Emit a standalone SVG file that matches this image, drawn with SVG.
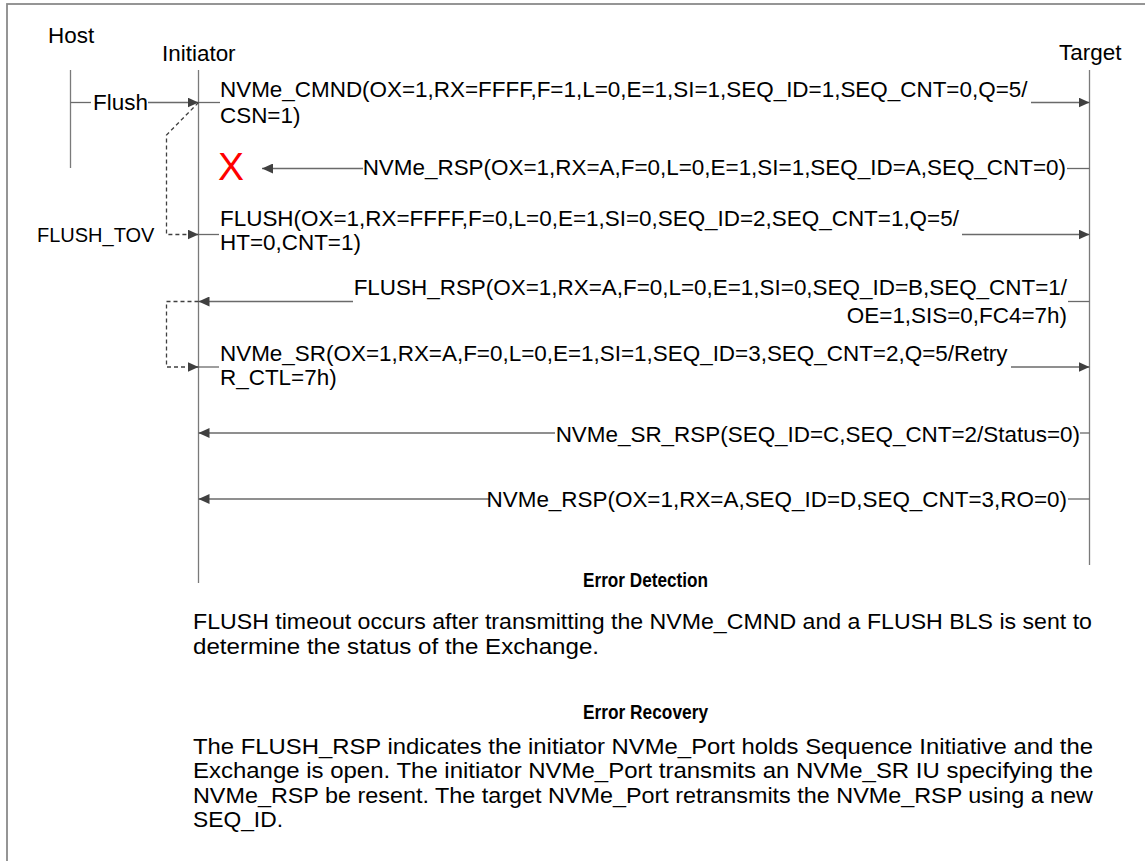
<svg xmlns="http://www.w3.org/2000/svg" width="1145" height="861" viewBox="0 0 1145 861">
<defs>
<marker id="ah" markerUnits="userSpaceOnUse" markerWidth="12" markerHeight="10" refX="11" refY="5" orient="auto">
<path d="M0,0 L11,5 L0,10 z" fill="#404040"/>
</marker>
<style>
.t{font-family:"Liberation Sans",Arial,sans-serif;font-size:22.45px;fill:#000}
.s{font-family:"Liberation Sans",Arial,sans-serif;font-size:20px;fill:#000}
.h{font-family:"Liberation Sans",Arial,sans-serif;font-size:21px;font-weight:bold;fill:#000}
.p{font-family:"Liberation Sans",Arial,sans-serif;font-size:22.5px;fill:#000}
.ll{stroke:#7a7a7a;stroke-width:1.3;fill:none}
.ar{stroke:#6a6a6a;stroke-width:1.3;fill:none}
.arw{stroke:#6a6a6a;stroke-width:1.3;fill:none;marker-end:url(#ah)}
.dsh{stroke:#404040;stroke-width:1.3;fill:none;stroke-dasharray:4,3;marker-end:url(#ah)}
</style>
</defs>
<rect x="7" y="4" width="1160" height="880" fill="#fff" stroke="#8a8a8a" stroke-width="1.8"/>

<g id="host">
<text class="t" x="48" y="43">Host</text>
<line class="ll" x1="70.5" y1="70" x2="70.5" y2="168"/>
</g>
<g id="initiator">
<text class="t" x="162" y="61">Initiator</text>
<line class="ll" x1="198.5" y1="70" x2="198.5" y2="583"/>
</g>
<g id="target">
<text class="t" x="1059" y="60">Target</text>
<line class="ll" x1="1089.5" y1="70" x2="1089.5" y2="565"/>
</g>

<g id="connectors">
<line class="ar" x1="70.5" y1="102.5" x2="91" y2="102.5"/>
<line class="arw" x1="148" y1="102.5" x2="198.5" y2="102.5"/>
<line class="ar" x1="198.5" y1="102.5" x2="220" y2="102.5"/>
<line class="arw" x1="1031" y1="102.5" x2="1089.5" y2="102.5"/>
<line class="ar" x1="1067" y1="168.5" x2="1089.5" y2="168.5"/>
<line class="arw" x1="363" y1="168.5" x2="262" y2="168.5"/>
<path class="dsh" d="M198.5,102.5 L166.5,135 L166.5,234.5 L198.5,234.5"/>
<line class="ar" x1="198.5" y1="234.5" x2="219" y2="234.5"/>
<line class="arw" x1="962" y1="234.5" x2="1089.5" y2="234.5"/>
<line class="ar" x1="1068" y1="301.5" x2="1089.5" y2="301.5"/>
<line class="arw" x1="353" y1="301.5" x2="198.5" y2="301.5"/>
<path class="dsh" d="M198.5,301.5 L166.5,301.5 L166.5,367 L198.5,367"/>
<line class="ar" x1="198.5" y1="367" x2="219" y2="367"/>
<line class="arw" x1="1011" y1="367" x2="1089.5" y2="367"/>
<line class="ar" x1="1080" y1="433" x2="1089.5" y2="433"/>
<line class="arw" x1="555" y1="433" x2="198.5" y2="433"/>
<line class="ar" x1="1068" y1="499" x2="1089.5" y2="499"/>
<line class="arw" x1="490" y1="499" x2="198.5" y2="499"/>
</g>

<g id="labels">
<text class="t" x="93" y="110">Flush</text>
<text class="t" x="220" y="97">NVMe_CMND(OX=1,RX=FFFF,F=1,L=0,E=1,SI=1,SEQ_ID=1,SEQ_CNT=0,Q=5/</text>
<text class="t" x="220" y="123">CSN=1)</text>
<text x="218" y="180" style="font-family:'Liberation Sans',Arial,sans-serif;font-size:39px;fill:#ff0000">X</text>
<text class="t" x="1066" y="175" text-anchor="end">NVMe_RSP(OX=1,RX=A,F=0,L=0,E=1,SI=1,SEQ_ID=A,SEQ_CNT=0)</text>
<text class="s" x="37" y="242">FLUSH_TOV</text>
<text class="t" x="220" y="226">FLUSH(OX=1,RX=FFFF,F=0,L=0,E=1,SI=0,SEQ_ID=2,SEQ_CNT=1,Q=5/</text>
<text class="t" x="220" y="250">HT=0,CNT=1)</text>
<text class="t" x="1067" y="295" text-anchor="end">FLUSH_RSP(OX=1,RX=A,F=0,L=0,E=1,SI=0,SEQ_ID=B,SEQ_CNT=1/</text>
<text class="t" x="1067" y="323" text-anchor="end">OE=1,SIS=0,FC4=7h)</text>
<text class="t" x="220" y="361">NVMe_SR(OX=1,RX=A,F=0,L=0,E=1,SI=1,SEQ_ID=3,SEQ_CNT=2,Q=5/Retry</text>
<text class="t" x="220" y="385">R_CTL=7h)</text>
<text class="t" x="1080" y="442" text-anchor="end">NVMe_SR_RSP(SEQ_ID=C,SEQ_CNT=2/Status=0)</text>
<text class="t" x="1067" y="507" text-anchor="end">NVMe_RSP(OX=1,RX=A,SEQ_ID=D,SEQ_CNT=3,RO=0)</text>
</g>

<g id="notes">
<text class="h" x="583" y="587" textLength="125" lengthAdjust="spacingAndGlyphs">Error Detection</text>
<text class="p" x="193" y="629" textLength="899" lengthAdjust="spacingAndGlyphs">FLUSH timeout occurs after transmitting the NVMe_CMND and a FLUSH BLS is sent to</text>
<text class="p" x="193" y="654" textLength="406" lengthAdjust="spacingAndGlyphs">determine the status of the Exchange.</text>
<text class="h" x="583" y="719" textLength="125" lengthAdjust="spacingAndGlyphs">Error Recovery</text>
<text class="p" x="193" y="754" textLength="900" lengthAdjust="spacingAndGlyphs">The FLUSH_RSP indicates the initiator NVMe_Port holds Sequence Initiative and the</text>
<text class="p" x="193" y="778" textLength="900" lengthAdjust="spacingAndGlyphs">Exchange is open. The initiator NVMe_Port transmits an NVMe_SR IU specifying the</text>
<text class="p" x="193" y="803" textLength="900" lengthAdjust="spacingAndGlyphs">NVMe_RSP be resent. The target NVMe_Port retransmits the NVMe_RSP using a new</text>
<text class="p" x="193" y="827" textLength="90" lengthAdjust="spacingAndGlyphs">SEQ_ID.</text>
</g>
</svg>
